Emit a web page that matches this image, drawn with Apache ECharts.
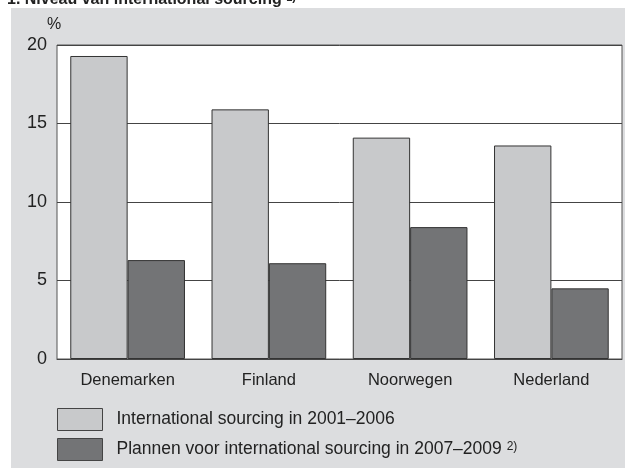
<!DOCTYPE html>
<html>
<head>
<meta charset="utf-8">
<script src="https://cdn.jsdelivr.net/npm/echarts@6/dist/echarts.min.js"></script>
<style>
  html, body { margin: 0; padding: 0; background: #fff; }
  #chart { width: 625px; height: 468px; }
</style>
</head>
<body>
<div id="chart"></div>
<script>
  const countries = ["Denemarken", "Finland", "Noorwegen", "Nederland"];
  const sourcing2001 = [19.3, 15.9, 14.1, 13.6];
  const plans2007 = [6.3, 6.1, 8.4, 4.5];
  const yTicks = [0, 5, 10, 15, 20];

  const seriesNames = [
    "International sourcing in 2001–2006",
    "Plannen voor international sourcing in 2007–2009 2)"
  ];

  const font = "Liberation Sans, Arial, sans-serif";
  const chart = echarts.init(document.getElementById("chart"));

  function legendFor(name, top) {
    return {
      orient: "vertical",
      left: 57,
      top: top,
      padding: 0,
      icon: "rect",
      itemWidth: 45,
      itemHeight: 22,
      selectedMode: false,
      data: [name],
      formatter: function (n) {
        if (n.endsWith(" 2)")) {
          return n.slice(0, -3) + " {s|2)}";
        }
        return n;
      },
      itemStyle: { borderColor: "#444", borderWidth: 1 },
      textStyle: {
        fontFamily: font,
        fontSize: 17.5,
        color: "#222",
        padding: [0, 0, 0, 9],
        rich: { s: { fontSize: 12, color: "#222", verticalAlign: "top", padding: [0, 0, 5, 0] } }
      }
    };
  }

  const option = {
    animation: false,
    backgroundColor: "#fff",
    textStyle: { fontFamily: font },
    title: {
      text: "1. Niveau van international sourcing {s|1)}",
      left: 2,
      top: -13,
      textStyle: {
        fontFamily: font,
        fontSize: 16,
        fontWeight: "bold",
        color: "#222",
        rich: { s: { fontSize: 11, fontWeight: "bold", color: "#222", verticalAlign: "top" } }
      }
    },
    graphic: [
      {
        type: "rect",
        z: -10,
        shape: { x: 11, y: 8, width: 614, height: 460 },
        style: { fill: "#dcdddf" }
      }
    ],
    grid: {
      left: 57,
      right: 3,
      top: 45,
      bottom: 109,
      show: true,
      backgroundColor: "#fff",
      borderColor: "#555",
      borderWidth: 1
    },
    legend: [legendFor(seriesNames[0], 408), legendFor(seriesNames[1], 438)],
    xAxis: {
      type: "category",
      data: countries,
      axisLine: { show: true, lineStyle: { color: "#444", width: 1 } },
      axisTick: { show: false },
      axisLabel: { fontSize: 16.5, color: "#222", margin: 13 }
    },
    yAxis: {
      type: "value",
      min: yTicks[0],
      max: yTicks[yTicks.length - 1],
      interval: 5,
      name: "%",
      nameLocation: "end",
      nameGap: 12,
      nameTextStyle: { fontSize: 16, color: "#222", align: "center", padding: [0, 6, 0, 0] },
      axisLine: { show: false },
      axisTick: { show: false },
      axisLabel: { fontSize: 18, color: "#222", margin: 10 },
      splitLine: { lineStyle: { color: "#444", width: 1 } }
    },
    series: [
      {
        name: seriesNames[0],
        type: "bar",
        data: sourcing2001,
        barGap: "0%",
        barCategoryGap: "18.8%",
        itemStyle: { color: "#c8c9cb", borderColor: "#333", borderWidth: 1 }
      },
      {
        name: seriesNames[1],
        type: "bar",
        data: plans2007,
        itemStyle: { color: "#737476", borderColor: "#333", borderWidth: 1 }
      }
    ]
  };

  chart.setOption(option);
</script>
</body>
</html>
